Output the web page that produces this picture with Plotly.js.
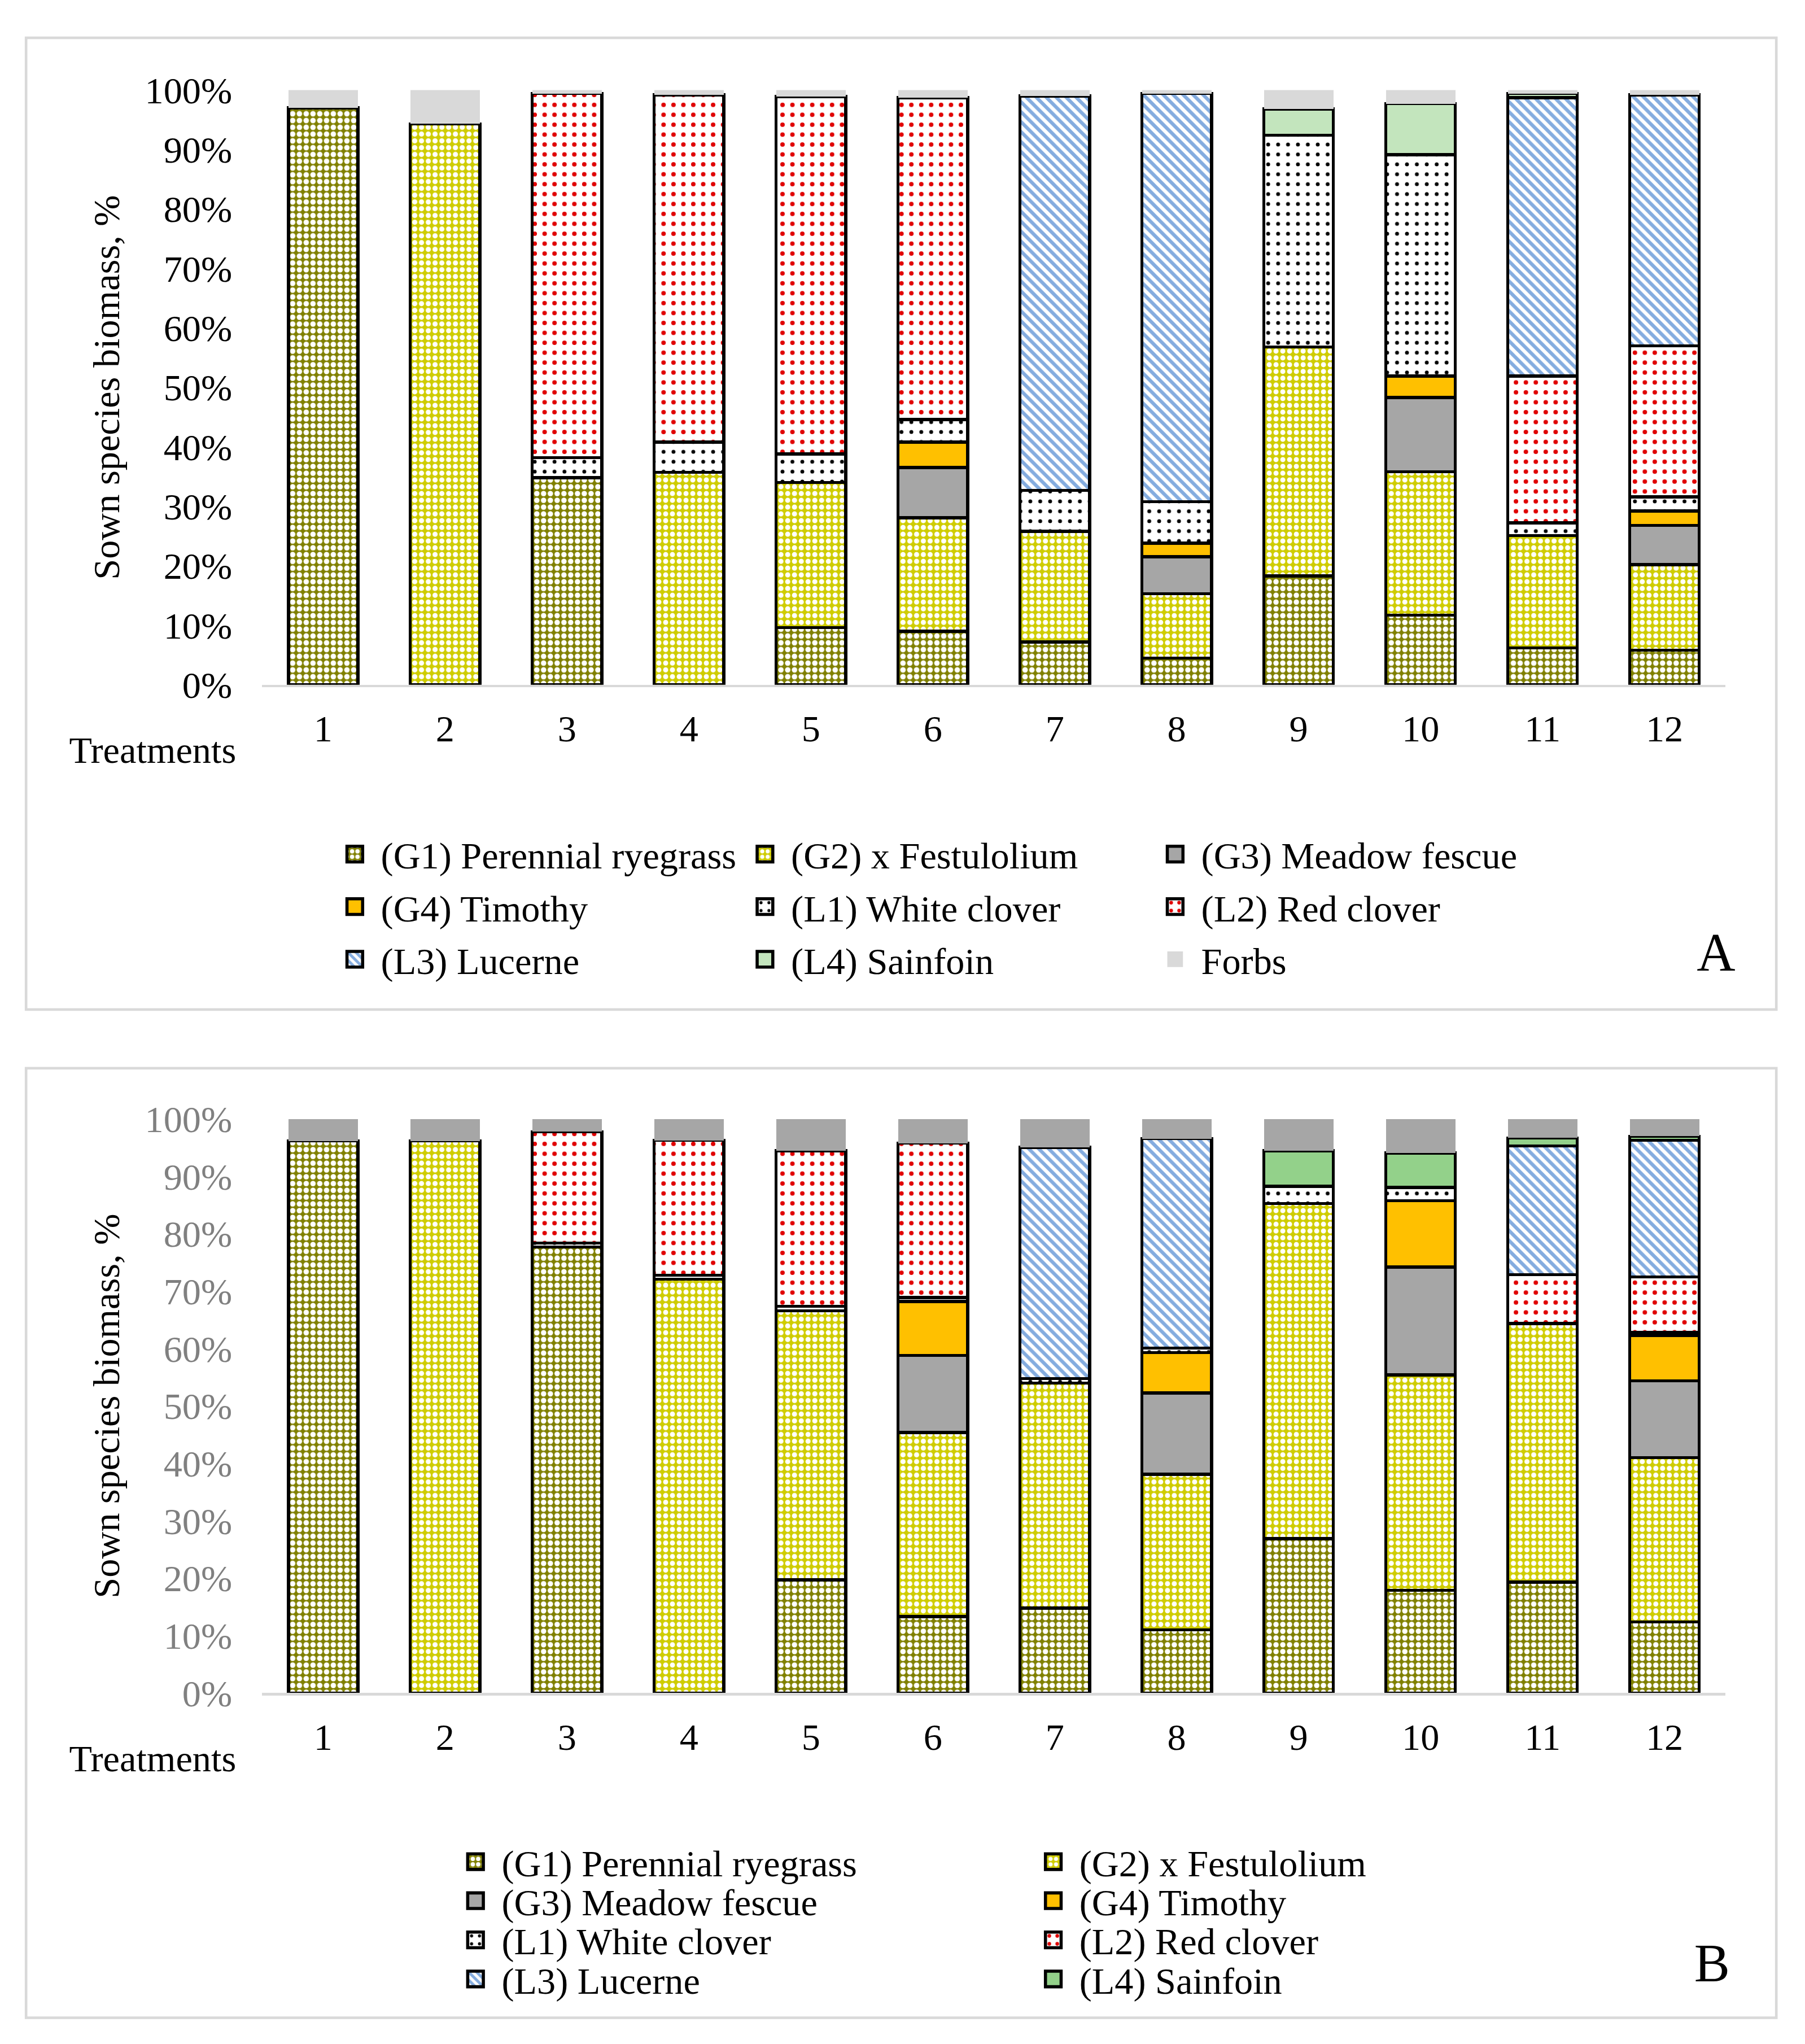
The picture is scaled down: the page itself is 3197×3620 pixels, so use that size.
<!DOCTYPE html>
<html>
<head>
<meta charset="utf-8">
<script src="https://cdn.plot.ly/plotly-3.0.1.min.js"></script>
<style>
  html, body { margin: 0; padding: 0; background: #ffffff; }
  #wrap { position: absolute; left: 0; top: 0; width: 1384px; height: 1567.2px;
          transform: scale(2.30997); transform-origin: 0 0; }
  .box { position: absolute; border: 2px solid #d9d9d9; box-sizing: border-box; }
  .plot { position: absolute; }
</style>
</head>
<body>
<div id="wrap">
  <div class="box" style="left:19px;top:28px;width:1344px;height:747px;"></div>
  <div class="box" style="left:19px;top:818px;width:1344px;height:730px;"></div>
  <div id="pa" class="plot" style="left:19px;top:28px;width:1344px;height:747px;"></div>
  <div id="pb" class="plot" style="left:19px;top:818px;width:1344px;height:740px;"></div>
</div>
<script>
// ---------- DATA ----------
const treatments = ['1','2','3','4','5','6','7','8','9','10','11','12'];
const seriesNames = ['(G1) Perennial ryegrass','(G2) x Festulolium','(G3) Meadow fescue','(G4) Timothy',
                     '(L1) White clover','(L2) Red clover','(L3) Lucerne','(L4) Sainfoin','Forbs'];

// Panel A (segment sizes, % of sown species biomass)
const A_G1 = [97.0, null, 34.8, null, 9.6, 9.0, 7.2, 4.5, 18.3, 11.7, 6.2, 5.8];
const A_G2 = [null, 94.3, null, 35.7, 24.4, 19.1, 18.6, 10.8, 38.5, 24.1, 18.9, 14.4];
const A_G3 = [null, null, null, null, null, 8.4, null, 6.2, null, 12.5, null, 6.6];
const A_G4 = [null, null, null, null, null, 4.3, null, 2.3, null, 3.6, null, 2.4];
const A_L1 = [null, null, 3.4, 5.1, 4.8, 3.8, 6.9, 7.0, 35.6, 37.2, 2.1, 2.4];
const A_L2 = [null, null, 61.2, 58.4, 60.1, 54.1, null, null, null, null, 24.7, 25.4];
const A_L3 = [null, null, null, null, null, null, 66.3, 68.6, null, null, 46.8, 42.2];
const A_L4 = [null, null, null, null, null, null, null, null, 4.4, 8.6, 0.7, null];
const A_Forbs = [3.0, 5.7, 0.6, 0.8, 1.1, 1.3, 1.0, 0.6, 3.2, 2.3, 0.6, 0.8];

// Panel B
const B_G1 = [96.2, null, 77.7, null, 19.7, 13.3, 14.8, 11.0, 26.9, 17.9, 19.3, 12.4];
const B_G2 = [null, 96.2, null, 72.1, 46.9, 32.1, 39.2, 27.1, 58.4, 37.5, 45.1, 28.6];
const B_G3 = [null, null, null, null, null, 13.4, null, 14.2, null, 18.8, null, 13.4];
const B_G4 = [null, null, null, null, null, 9.4, null, 7.0, null, 11.6, null, 7.9];
const B_L1 = [null, null, 0.7, 0.7, 0.8, 0.7, 0.8, 0.8, 3.0, 2.3, null, 0.5];
const B_L2 = [null, null, 19.4, 23.5, 27.1, 26.9, null, null, null, null, 8.5, 9.7];
const B_L3 = [null, null, null, null, null, null, 40.3, 36.5, null, null, 22.4, 23.8];
const B_L4 = [null, null, null, null, null, null, null, null, 6.2, 6.0, 1.4, 0.7];
const B_Forbs = [3.8, 3.8, 2.2, 3.7, 5.5, 4.2, 4.9, 3.4, 5.5, 5.9, 3.3, 3.0];

const yTicks = [0,10,20,30,40,50,60,70,80,90,100];

// ---------- STYLES ----------
const FONT = "'Liberation Serif', 'Times New Roman', serif";
const FS = 28.7;
const BW = 2.4;
function sty(bg, fg, shape, size, sol, line) {
  return {bg: bg, fg: fg, shape: shape, size: size, sol: sol, line: line};
}
const stylesA = [
  sty('#808000', '#ffffff', '.', 5.2, 0.5, BW),
  sty('#cfcc00', '#ffffff', '.', 5.2, 0.45, BW),
  sty('#a6a6a6', null, '', 0, 0, BW),
  sty('#ffc000', null, '', 0, 0, BW),
  sty('#ffffff', '#000000', '.', 7.6, 0.12, BW),
  sty('#ffffff', '#e00000', '.', 7.6, 0.16, BW),
  sty('#ffffff', '#84acdf', '\\', 5.4, 0.5, BW),
  sty('#c3e5bd', null, '', 0, 0, BW),
  sty('#d9d9d9', null, '', 0, 0, 0)
];
const stylesB = stylesA.slice();
stylesB[7] = sty('#93d18a', null, '', 0, 0, BW);
stylesB[8] = sty('#a6a6a6', null, '', 0, 0, 0);

function makeTraces(dataArrs, styles, forbsLegend, legendIds) {
  return dataArrs.map((vals, i) => {
    const s = styles[i];
    const marker = { color: s.bg, line: { color: '#000000', width: s.line } };
    if (s.shape) {
      marker.pattern = { shape: s.shape, bgcolor: s.bg, fgcolor: s.fg, fgopacity: 1,
                         size: s.size, solidity: s.sol, fillmode: 'replace' };
    }
    const t = {
      type: 'bar', name: seriesNames[i], x: treatments, y: vals, marker: marker,
      showlegend: (i === 8) ? forbsLegend : true, hoverinfo: 'x+y+name'
    };
    if (legendIds) t.legend = legendIds[i];
    return t;
  });
}

function legendObj(x, y, ew) {
  return {
    orientation: 'h', x: x, xanchor: 'left', y: y, yanchor: 'top',
    entrywidth: ew, entrywidthmode: 'pixels', traceorder: 'normal',
    font: { family: FONT, size: FS, color: '#000000' }, bgcolor: 'rgba(0,0,0,0)',
    borderwidth: 0
  };
}

function layoutFor(cfg) {
  const lay = {
    width: 1344, height: cfg.h, autosize: false,
    margin: { l: 181.9, r: 39.6, t: cfg.t, b: cfg.b, pad: 0 },
    paper_bgcolor: 'rgba(0,0,0,0)', plot_bgcolor: 'rgba(0,0,0,0)',
    barmode: 'stack', bargap: 0.43,
    font: { family: FONT, size: FS, color: '#000000' },
    xaxis: {
      type: 'category', showline: true, linecolor: '#d9d9d9', linewidth: 2,
      ticks: '', showgrid: false, zeroline: false, fixedrange: true,
      tickfont: { family: FONT, size: FS, color: '#000000' }, ticklabelstandoff: 7
    },
    yaxis: {
      range: [0, 100], tickvals: yTicks, ticktext: yTicks.map(v => v + '%'),
      showgrid: false, zeroline: false, showline: false, ticks: '', fixedrange: true,
      tickfont: { family: FONT, size: FS, color: cfg.ytickColor }, ticklabelstandoff: 22,
      title: { text: 'Sown species biomass, %', font: { family: FONT, size: FS, color: '#000000' }, standoff: 10 }
    },
    annotations: [
      { text: 'Treatments', xref: 'paper', yref: 'paper', x: -0.0159, y: cfg.ty,
        xanchor: 'right', yanchor: 'middle', showarrow: false,
        font: { family: FONT, size: FS, color: '#000000' } },
      { text: cfg.letter, xref: 'paper', yref: 'paper', x: cfg.lax, y: cfg.lay,
        xanchor: 'center', yanchor: 'middle', showarrow: false,
        font: { family: FONT, size: 41, color: '#000000' } }
    ]
  };
  cfg.legends.forEach((lg, k) => {
    lay[k === 0 ? 'legend' : 'legend' + (k + 1)] = legendObj(lg.x, lg.y, lg.ew);
  });
  return lay;
}

const tracesA = makeTraces([A_G1, A_G2, A_G3, A_G4, A_L1, A_L2, A_L3, A_L4, A_Forbs], stylesA, true, null);
const legendRowsB = ['legend','legend','legend2','legend2','legend3','legend3','legend4','legend4','legend4'];
const tracesB = makeTraces([B_G1, B_G2, B_G3, B_G4, B_L1, B_L2, B_L3, B_L4, B_Forbs], stylesB, false, legendRowsB);

const layA = layoutFor({ h: 747, t: 40.8, b: 250.3, ytickColor: '#000000',
  legends: [{ x: 0.0455, y: -0.2295, ew: 269.5 }],
  ty: -0.1103, letter: 'A', lax: 0.9934, lay: -0.450 });
const layB = layoutFor({ h: 740, t: 39.6, b: 260.2, ytickColor: '#808080',
  legends: [
    { x: 0.128, y: -0.2367, ew: 398 },
    { x: 0.128, y: -0.3048, ew: 398 },
    { x: 0.128, y: -0.3730, ew: 398 },
    { x: 0.128, y: -0.4411, ew: 398 }
  ],
  ty: -0.114, letter: 'B', lax: 0.991, lay: -0.4707 });

Plotly.newPlot('pa', tracesA, layA, { displayModeBar: false, staticPlot: true });
Plotly.newPlot('pb', tracesB, layB, { displayModeBar: false, staticPlot: true });
</script>
</body>
</html>
